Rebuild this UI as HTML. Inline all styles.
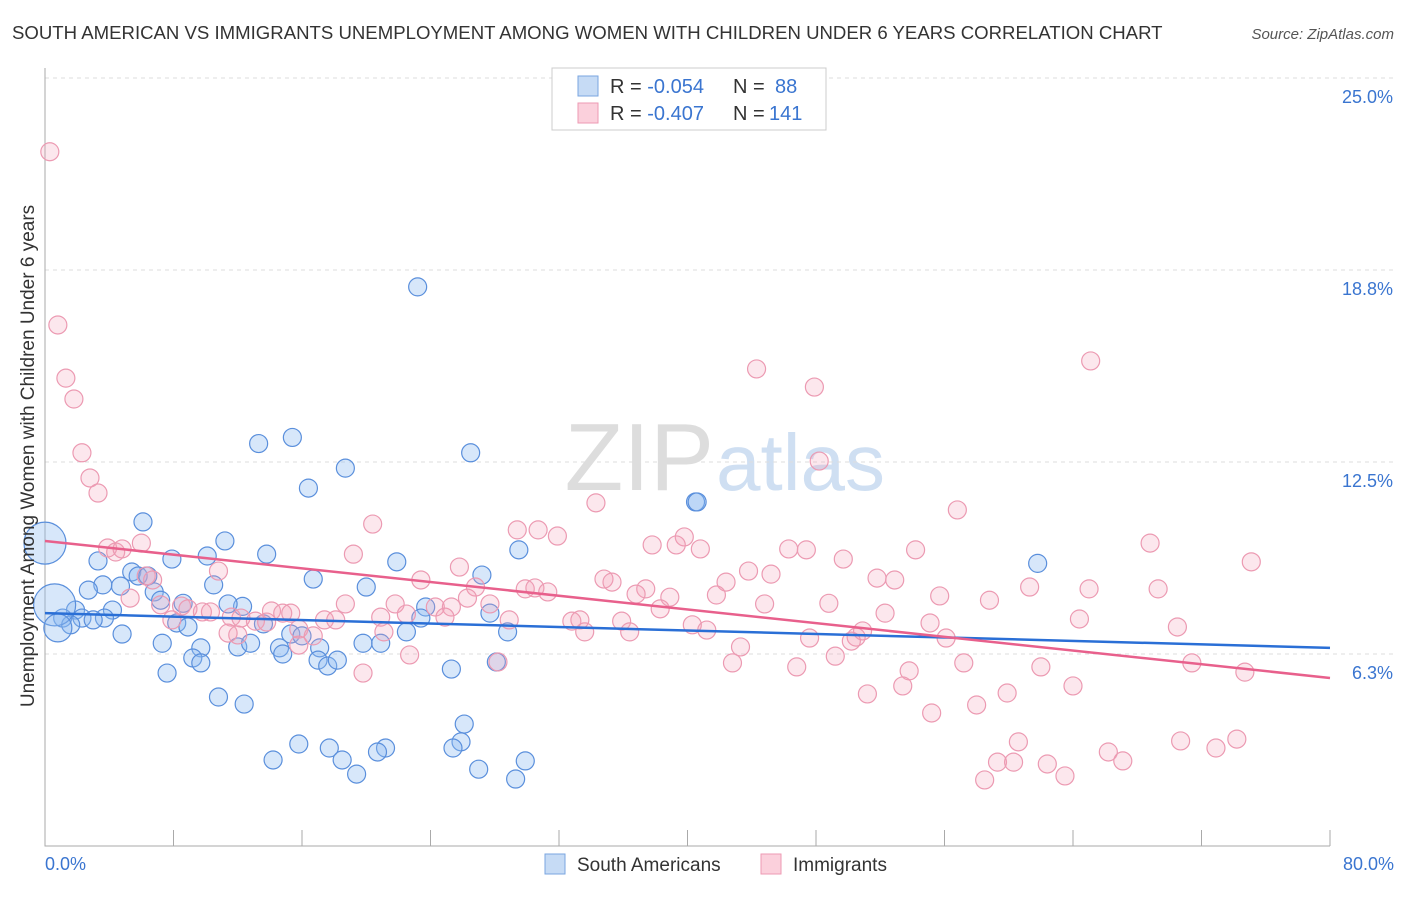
<!DOCTYPE html>
<html><head><meta charset="utf-8"><style>
body{margin:0;background:#fff;font-family:"Liberation Sans",sans-serif}
svg text{font-family:"Liberation Sans",sans-serif}
</style></head><body>
<svg id="c" width="1406" height="892">
<text x="12" y="39" font-size="18.6" fill="#333">SOUTH AMERICAN VS IMMIGRANTS UNEMPLOYMENT AMONG WOMEN WITH CHILDREN UNDER 6 YEARS CORRELATION CHART</text>
<text x="1394" y="39" font-size="15" fill="#555" font-style="italic" text-anchor="end">Source: ZipAtlas.com</text>
<text x="714" y="490" font-size="96" fill="#ddd" text-anchor="end" font-family="Liberation Serif">ZIP</text>
<text x="716" y="490" font-size="80" fill="#cfdff2">atlas</text>
<g id="grid"></g><g id="pts"></g><g id="lines"></g>
<text transform="translate(34,456) rotate(-90)" font-size="19" fill="#333" text-anchor="middle">Unemployment Among Women with Children Under 6 years</text>
<text x="45" y="870" font-size="18" fill="#3a75d0">0.0%</text>
<text x="1394" y="870" font-size="18" fill="#3a75d0" text-anchor="end">80.0%</text>
<g>
<rect x="552" y="68" width="274" height="62" fill="#fff" stroke="#ccc"/>
<rect x="578" y="76" width="20" height="20" fill="#c6dbf5" stroke="#7aa6e0"/>
<rect x="578" y="103" width="20" height="20" fill="#fbd0dc" stroke="#ee9ab3"/>
<text x="610" y="93" font-size="20" fill="#333">R = <tspan fill="#3a75d0">-0.054</tspan></text>
<text x="733" y="93" font-size="20" fill="#333">N =</text>
<text x="775" y="93" font-size="20" fill="#3a75d0">88</text>
<text x="610" y="120" font-size="20" fill="#333">R = <tspan fill="#3a75d0">-0.407</tspan></text>
<text x="733" y="120" font-size="20" fill="#333">N =</text>
<text x="769" y="120" font-size="20" fill="#3a75d0">141</text>
</g>
<g>
<rect x="545" y="854" width="20" height="20" fill="#c6dbf5" stroke="#7aa6e0"/>
<text x="577" y="871" font-size="19" fill="#333">South Americans</text>
<rect x="761" y="854" width="20" height="20" fill="#fbd0dc" stroke="#ee9ab3"/>
<text x="793" y="871" font-size="19" fill="#333">Immigrants</text>
</g>
</svg>
<script>
const yTicks=[25,18.75,12.5,6.25];
const yTickLabels=["25.0%","18.8%","12.5%","6.3%"];
const xTicks=[0,8,16,24,32,40,48,56,64,72,80];
const blueX=[23.2,15.4,13.3,26.5,18.7,16.4,40.5,40.6,6.1,11.2,29.5,13.8,10.1,7.9,3.3,21.9,61.8,5.4,5.8,27.2,6.4,16.7,3.6,10.5,4.7,20.0,2.7,6.8,7.2,8.6,12.3,11.4,1.9,4.2,23.7,27.7,3.7,23.4,1.1,2.3,3.0,8.2,1.6,8.9,13.6,4.8,22.5,28.8,15.3,16.0,7.3,9.7,12.0,12.8,14.6,17.1,19.8,20.9,14.8,9.2,9.7,17.0,17.6,18.2,25.3,28.1,7.6,10.8,12.4,26.1,15.8,17.7,21.2,25.9,25.4,20.7,14.2,18.5,29.9,19.4,27.0,29.3,0,0.6,0.8];
const blueY=[18.2,13.3,13.1,12.8,12.3,11.65,11.2,11.2,10.55,9.93,9.64,9.5,9.44,9.34,9.28,9.25,9.2,8.92,8.79,8.82,8.79,8.69,8.5,8.5,8.46,8.43,8.33,8.27,8.0,7.9,7.8,7.88,7.68,7.68,7.78,7.58,7.42,7.42,7.42,7.42,7.36,7.26,7.2,7.13,7.23,6.9,6.97,6.97,6.9,6.84,6.6,6.45,6.48,6.6,6.45,6.45,6.6,6.6,6.25,6.12,5.96,6.05,5.86,6.05,5.76,5.99,5.63,4.85,4.62,3.97,3.32,3.19,3.19,3.39,3.19,3.06,2.8,2.8,2.77,2.34,2.5,2.18,9.86,7.85,7.1];
const blueR=[9,9,9,9,9,9,9,9,9,9,9,9,9,9,9,9,9,9,9,9,9,9,9,9,9,9,9,9,9,9,9,9,9,9,9,9,9,9,9,9,9,9,9,9,9,9,9,9,9,9,9,9,9,9,9,9,9,9,9,9,9,9,9,9,9,9,9,9,9,9,9,9,9,9,9,9,9,9,9,9,9,9,21,21,14];
const pinkX=[0.3,0.8,1.3,1.8,2.3,2.8,3.3,20.4,29.4,30.7,31.9,34.3,56.8,65.1,44.3,47.9,48.2,39.8,39.3,37.8,40.8,46.3,47.4,49.7,54.2,68.8,75.1,3.9,4.4,4.8,6.0,19.2,25.8,10.8,6.3,6.7,23.4,34.8,35.3,43.8,45.2,42.4,51.8,52.9,61.3,65.0,69.3,29.9,30.5,31.3,37.4,26.8,5.3,26.3,36.8,41.8,38.9,55.7,58.8,48.8,44.8,18.7,21.8,24.3,25.3,27.7,7.2,8.5,8.9,9.8,10.3,14.1,14.8,15.3,38.3,52.3,64.4,70.5,7.9,11.6,12.2,13.1,13.8,17.4,18.1,20.9,22.5,24.9,28.9,32.8,33.3,35.9,55.1,40.3,41.2,33.6,36.4,50.9,15.8,12.0,11.4,21.1,50.5,47.6,56.1,16.7,15.8,50.2,43.3,22.7,28.2,57.2,62.0,71.4,42.8,49.2,46.8,53.8,19.8,74.7,53.4,64.0,51.2,59.9,58.0,55.2,60.6,70.7,74.2,66.2,72.9,67.1,59.3,60.3,62.4,63.5,58.5];
const pinkY=[22.6,16.96,15.23,14.55,12.8,11.98,11.49,10.48,10.29,10.29,10.09,11.17,10.94,15.79,15.53,14.94,12.53,10.06,9.8,9.8,9.67,9.67,9.64,9.34,9.64,9.86,9.25,9.7,9.57,9.67,9.86,9.5,9.08,8.95,8.79,8.66,8.66,8.69,8.59,8.95,8.85,8.59,8.72,8.66,8.43,8.37,8.37,8.37,8.4,8.27,8.37,8.43,8.07,8.07,8.2,8.17,8.1,8.14,8.0,7.9,7.88,7.88,7.88,7.78,7.78,7.88,7.85,7.81,7.72,7.62,7.62,7.65,7.58,7.58,7.72,7.58,7.39,7.13,7.36,7.45,7.42,7.32,7.29,7.36,7.36,7.45,7.55,7.45,7.36,7.32,7.36,7.32,7.26,7.2,7.03,6.97,6.97,7.0,7.06,6.87,6.93,6.97,6.8,6.77,6.77,6.84,6.54,6.67,6.48,6.22,5.99,5.96,5.83,5.96,5.96,6.18,5.83,5.7,5.63,5.66,5.21,5.21,4.95,4.98,4.59,4.33,3.39,3.42,3.48,3.06,3.19,2.77,2.73,2.73,2.67,2.28,2.15];
const blueTrend=[7.58,6.45];
const pinkTrend=[9.93,5.47];
const X=v=>45+v*1285/80, Y=v=>846-v*30.72;
const NS='http://www.w3.org/2000/svg';
function mk(t,a,p){const e=document.createElementNS(NS,t);for(const k in a)e.setAttribute(k,a[k]);p.appendChild(e);return e;}
const g=document.getElementById('grid'),pts=document.getElementById('pts'),ln=document.getElementById('lines');
yTicks.forEach((t,i)=>{
 const l=mk('line',{x1:45,x2:1394,y1:Y(t),y2:Y(t),stroke:'#ddd','stroke-dasharray':'4,4'},g);
 
 
 const tx=mk('text',{x:1393,y:Y(t)+25,'font-size':18,fill:'#3a75d0','text-anchor':'end'},g);
 tx.textContent=yTickLabels[i];
 
 
});
const ax=mk('path',{d:'M45,68V846H1330',stroke:'#aaa',fill:'none'},g);


xTicks.forEach(t=>{
 const l=mk('line',{x1:X(t),x2:X(t),y1:830,y2:846,stroke:'#aaa'},g);
 
 
});
blueX.forEach((x,i)=>{
 const c=mk('circle',{cx:X(x),cy:Y(blueY[i]),r:blueR[i],fill:'rgba(140,185,240,0.35)',stroke:'#5a8fdc','stroke-width':1.2},pts);
 
 
});
pinkX.forEach((x,i)=>{
 const c=mk('circle',{cx:X(x),cy:Y(pinkY[i]),r:9,fill:'rgba(245,160,185,0.25)',stroke:'#ec9ab2','stroke-width':1.2},pts);
 
 
});
const b=mk('line',{x1:X(0),x2:X(80),y1:Y(blueTrend[0]),y2:Y(blueTrend[1]),stroke:'#2a6fd6','stroke-width':2.5},ln);


const p=mk('line',{x1:X(0),x2:X(80),y1:Y(pinkTrend[0]),y2:Y(pinkTrend[1]),stroke:'#e8608c','stroke-width':2.5},ln);


</script>
</body></html>
